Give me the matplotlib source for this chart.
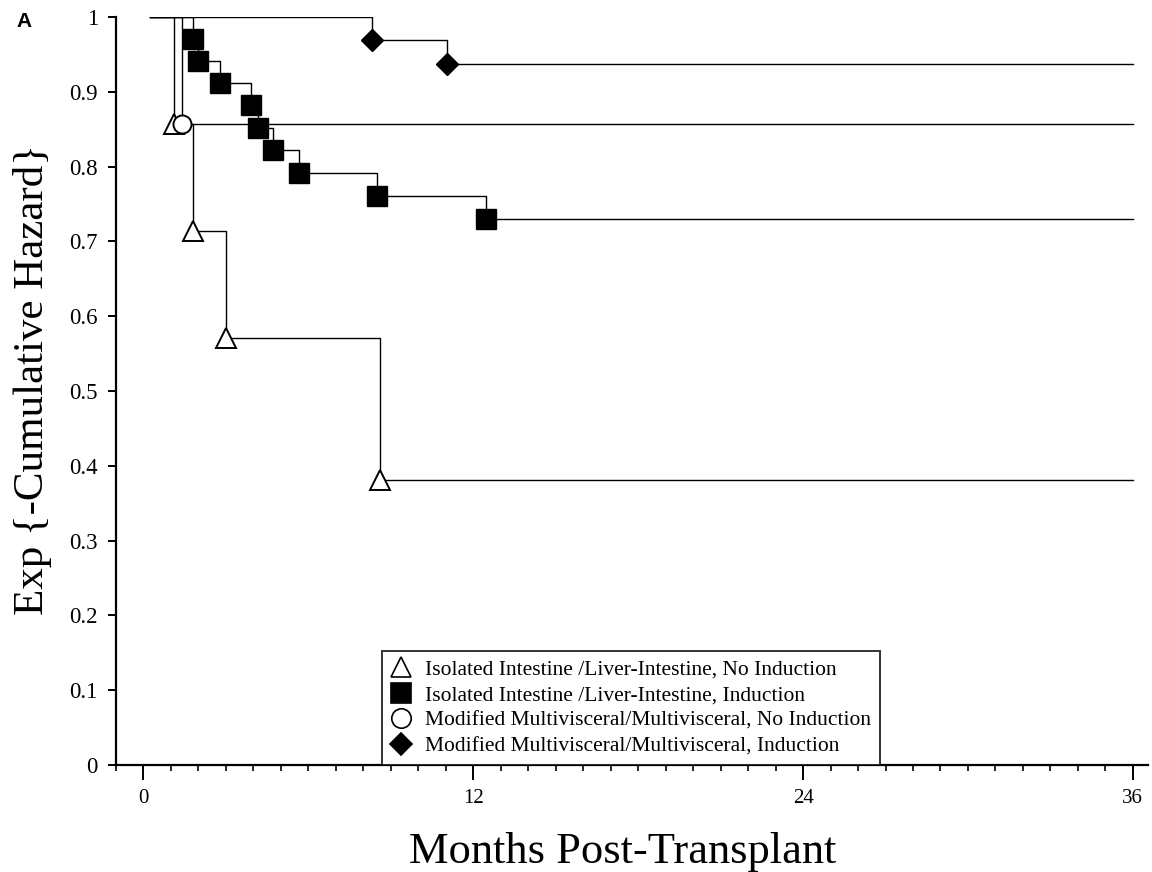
import matplotlib.pyplot as plt
from matplotlib.lines import Line2D

plt.rcParams['font.family'] = ['Liberation Serif', 'DejaVu Serif']

# event times (months) and survival estimate after each event
iso_noind_t = [1.1, 1.8, 3.0, 8.6]
iso_noind_s = [0.857, 0.714, 0.571, 0.381]

iso_ind_t = [1.8, 2.0, 2.8, 3.9, 4.15, 4.7, 5.65, 8.5, 12.45]
iso_ind_s = [0.971, 0.941, 0.912, 0.882, 0.852, 0.822, 0.791, 0.761, 0.730]

mv_noind_t = [1.4]
mv_noind_s = [0.857]

mv_ind_t = [8.3, 11.05]
mv_ind_s = [0.969, 0.937]

labels = [
    "Isolated Intestine /Liver-Intestine, No Induction",
    "Isolated Intestine /Liver-Intestine, Induction",
    "Modified Multivisceral/Multivisceral, No Induction",
    "Modified Multivisceral/Multivisceral, Induction",
]

start, end = 0.25, 36.0

fig = plt.figure(figsize=(11.52, 8.72), dpi=100)
ax = fig.add_axes([0.1007, 0.1227, 0.8958, 0.8578])

groups = [
    (iso_noind_t, iso_noind_s, dict(marker='^', mfc='white', ms=15, mew=1.4)),
    (iso_ind_t, iso_ind_s, dict(marker='s', mfc='black', ms=15, mew=1)),
    (mv_noind_t, mv_noind_s, dict(marker='o', mfc='white', ms=13, mew=1.4)),
    (mv_ind_t, mv_ind_s, dict(marker='D', mfc='black', ms=11, mew=1)),
]

handles = []
for (t, s, mk), lab in zip(groups, labels):
    xs = [start] + t + [end]
    ys = [1.0] + s + [s[-1]]
    ax.step(xs, ys, where='post', color='black', lw=1.0, zorder=2)
    ax.plot(t, s, ls='none', mec='black', zorder=3, **mk)
    handles.append(Line2D([], [], ls='none', color='black', mec='black',
                          marker=mk['marker'], mfc=mk['mfc'],
                          ms=14 if mk['marker'] != 'D' else 11.5, mew=1.2))

ax.set_xlim(-1, 36.55)
ax.set_ylim(0, 1)
ax.set_xticks([0, 12, 24, 36])
ax.set_xticks(range(-1, 37), minor=True)
ax.set_yticks([i / 10 for i in range(11)])
ax.set_yticklabels(['0', '0.1', '0.2', '0.3', '0.4', '0.5', '0.6', '0.7',
                    '0.8', '0.9', '1'])

for side in ['top', 'right']:
    ax.spines[side].set_visible(False)
for side in ['left', 'bottom']:
    ax.spines[side].set_linewidth(1.6)

ax.tick_params(axis='x', which='major', direction='out', length=11, width=1.4,
               labelsize=15, pad=6)
ax.tick_params(axis='x', which='minor', direction='out', length=4, width=1.2)
ax.tick_params(axis='y', which='major', direction='out', length=6, width=1.4,
               labelsize=16.5, pad=7)

ax.set_xlabel('Months Post-Transplant', fontsize=32, va='top')
ax.xaxis.set_label_coords(0.491, -0.09)
ax.set_ylabel('Exp {-Cumulative Hazard}', fontsize=31)
ax.yaxis.set_label_coords(-0.062, 0.515)

leg = ax.legend(handles, labels, loc='lower left',
                bbox_to_anchor=(0.2578, 0.0), fontsize=15.5,
                frameon=True, fancybox=False, edgecolor='black',
                handlelength=1.0, handletextpad=0.6, borderpad=0.4,
                labelspacing=0.26, borderaxespad=0)
leg.get_frame().set_linewidth(1.4)

fig.text(0.014, 0.975, 'A', fontsize=15, fontweight='bold',
         family='Liberation Sans', va='center')

fig.savefig('out.png', dpi=100)
